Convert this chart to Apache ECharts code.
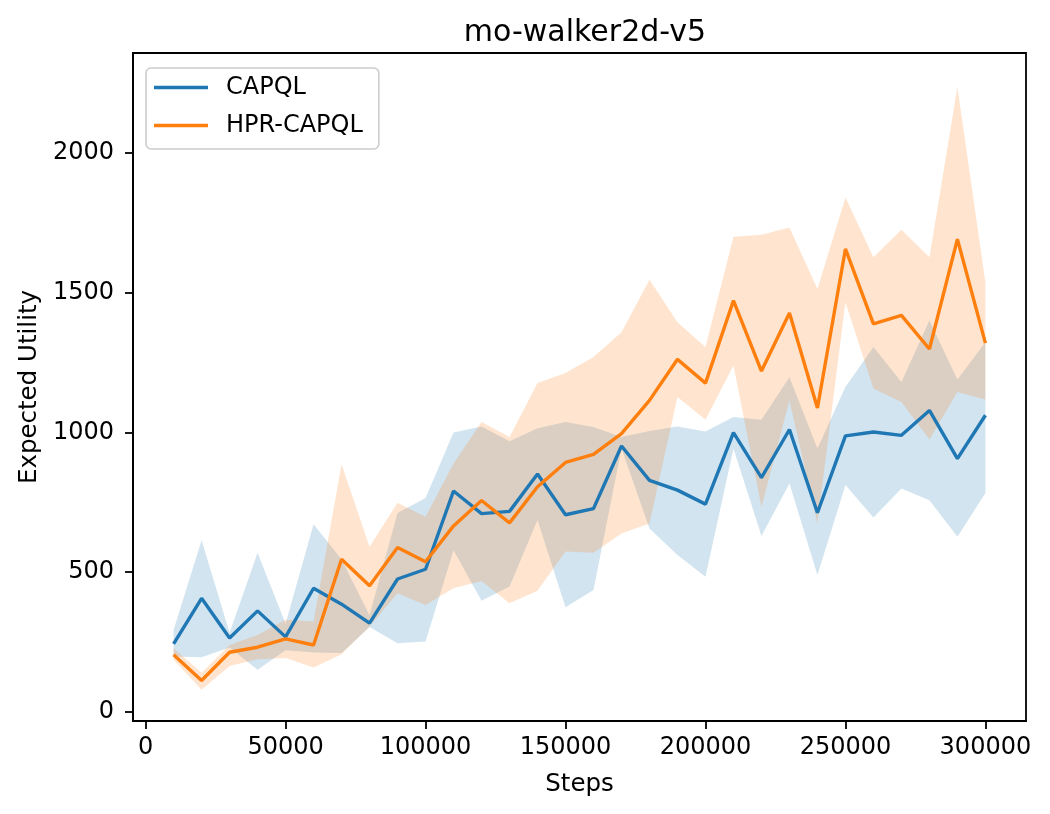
<!DOCTYPE html>
<html>
<head>
<meta charset="utf-8">
<script src="https://cdn.jsdelivr.net/npm/echarts@6/dist/echarts.min.js"></script>
<style>html,body{margin:0;padding:0;background:#fff}#c{width:1050px;height:814px}</style>
</head>
<body>
<div id="c"></div>
<script>
var steps = [10000, 20000, 30000, 40000, 50000, 60000, 70000, 80000, 90000, 100000,
  110000, 120000, 130000, 140000, 150000, 160000, 170000, 180000, 190000, 200000,
  210000, 220000, 230000, 240000, 250000, 260000, 270000, 280000, 290000, 300000];

var capqlMean = [243, 406, 264, 361, 268, 442, 385, 317, 475, 510,
  790, 709, 717, 851, 705, 727, 951, 828, 793, 743,
  999, 838, 1010, 712, 987, 1001, 989, 1078, 906, 1061];
var capqlUpper = [293, 614, 283, 569, 315, 671, 545, 345, 711, 765,
  999, 1021, 968, 1014, 1037, 1019, 983, 1005, 1021, 1003,
  1055, 1045, 1197, 942, 1162, 1305, 1180, 1400, 1189, 1322];
var capqlLower = [198, 195, 230, 150, 220, 212, 210, 303, 245, 251,
  578, 397, 448, 686, 374, 436, 942, 656, 561, 483,
  942, 629, 817, 489, 811, 695, 799, 757, 626, 783];

var hprMean = [204, 112, 213, 231, 261, 239, 546, 451, 588, 537,
  665, 756, 676, 805, 892, 921, 995, 1114, 1261, 1176,
  1471, 1219, 1427, 1087, 1656, 1388, 1418, 1298, 1691, 1319];
var hprUpper = [227, 140, 239, 275, 329, 323, 886, 590, 748, 698,
  888, 1037, 983, 1176, 1212, 1269, 1358, 1546, 1394, 1305,
  1700, 1707, 1733, 1513, 1840, 1626, 1725, 1626, 2235, 1537];
var hprLower = [186, 79, 164, 188, 192, 158, 206, 305, 424, 382,
  442, 468, 388, 433, 573, 569, 638, 674, 1126, 1045,
  1239, 733, 1114, 674, 1465, 1156, 1108, 974, 1144, 1117];

var xTicks = [0, 50000, 100000, 150000, 200000, 250000, 300000];
var yTicks = [0, 500, 1000, 1500, 2000];

var BLUE = '#1f77b4', ORANGE = '#ff7f0e';
var FONT = 'DejaVu Sans';

function pairs(a) { return steps.map(function (s, i) { return [s, a[i]]; }); }
function rows(l, u) { return steps.map(function (s, i) { return [s, l[i], u[i]]; }); }

function bandSeries(name, lower, upper, color, z) {
  return {
    name: name + ' band', type: 'custom', silent: true, z: z,
    data: rows(lower, upper),
    encode: { x: 0, y: [1, 2] },
    clip: true,
    renderItem: function (params, api) {
      if (params.dataIndex !== 0) return null;
      var top = [], bot = [];
      for (var i = 0; i < steps.length; i++) {
        top.push(api.coord([steps[i], upper[i]]));
        bot.push(api.coord([steps[i], lower[i]]));
      }
      var pts = top.concat(bot.reverse());
      return {
        type: 'polygon',
        shape: { points: pts },
        style: { fill: color, opacity: 0.2, stroke: null }
      };
    }
  };
}

var chart = echarts.init(document.getElementById('c'), null, { renderer: 'canvas' });
var series = [
  bandSeries('CAPQL', capqlLower, capqlUpper, BLUE, 1),
  bandSeries('HPR-CAPQL', hprLower, hprUpper, ORANGE, 2),
  { name: 'CAPQL', type: 'line', data: pairs(capqlMean), symbol: 'none',
    lineStyle: { color: BLUE, width: 3.4 }, itemStyle: { color: BLUE }, z: 3 },
  { name: 'HPR-CAPQL', type: 'line', data: pairs(hprMean), symbol: 'none',
    lineStyle: { color: ORANGE, width: 3.4 }, itemStyle: { color: ORANGE }, z: 4 }
];

chart.setOption({
  animation: false,
  backgroundColor: '#fff',
  textStyle: { fontFamily: FONT },
  title: {
    text: 'mo-walker2d-v5', left: 580, textAlign: 'center', top: 13,
    textStyle: { fontFamily: FONT, fontSize: 30, fontWeight: 'normal', color: '#000' }
  },
  legend: {
    data: ['CAPQL', 'HPR-CAPQL'], orient: 'vertical', left: 146, top: 68,
    icon: 'rect', itemWidth: 54, itemHeight: 3.4, itemGap: 13,
    padding: [7, 16, 11, 8],
    borderColor: '#cccccc', borderWidth: 1.6, borderRadius: 5,
    backgroundColor: 'rgba(255,255,255,0.8)',
    textStyle: { fontFamily: FONT, fontSize: 24, color: '#000', lineHeight: 25, padding: [0, 0, 0, 13] }
  },
  grid: { left: 133, right: 24, top: 53, bottom: 93, show: true, borderColor: '#000', borderWidth: 1.8, backgroundColor: '#fff' },
  xAxis: {
    type: 'value', min: -4500, max: 314500,
    name: 'Steps', nameLocation: 'middle', nameGap: 51,
    nameTextStyle: { fontFamily: FONT, fontSize: 24.5, color: '#000' },
    splitLine: { show: false },
    axisLine: { show: true, onZero: false, lineStyle: { color: '#000', width: 1.8 } },
    axisTick: { show: true, length: 8, lineStyle: { color: '#000', width: 1.8 }, customValues: xTicks },
    axisLabel: { margin: 15, fontFamily: FONT, fontSize: 24, color: '#000', customValues: xTicks,
      formatter: function (v) { return String(v); } }
  },
  yAxis: {
    type: 'value', min: -33, max: 2357,
    name: 'Expected Utility', nameLocation: 'middle', nameGap: 90,
    nameTextStyle: { fontFamily: FONT, fontSize: 24.5, color: '#000' },
    splitLine: { show: false },
    axisLine: { show: true, onZero: false, lineStyle: { color: '#000', width: 1.8 } },
    axisTick: { show: true, length: 8, lineStyle: { color: '#000', width: 1.8 }, customValues: yTicks },
    axisLabel: { margin: 19, fontFamily: FONT, fontSize: 24, color: '#000', customValues: yTicks,
      formatter: function (v) { return String(v); } }
  },
  series: series
});
</script>
</body>
</html>
